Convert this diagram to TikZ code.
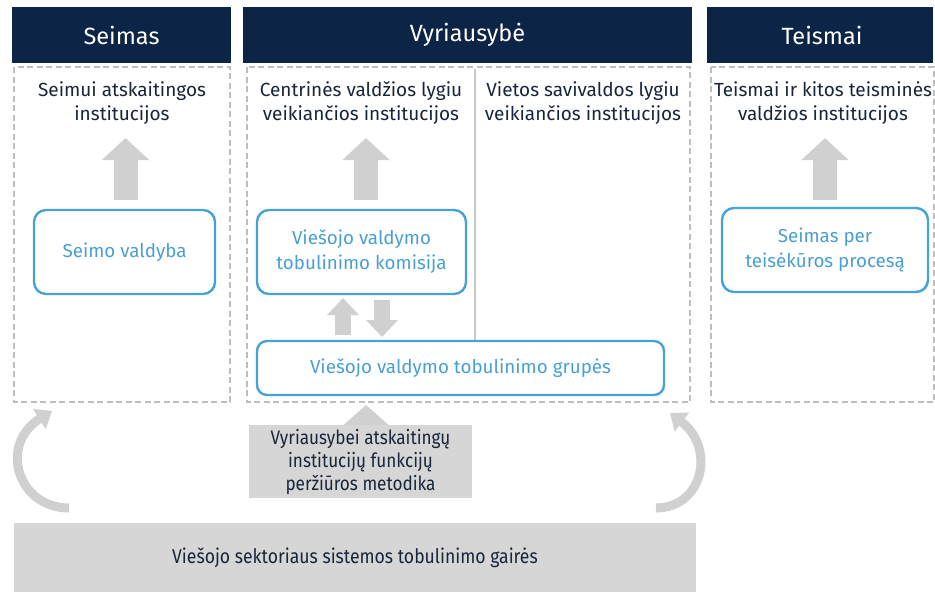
\documentclass[tikz,border=0pt]{standalone}
\usepackage{fontspec}
\setmainfont{Fira Sans}
\newfontfamily\condfont[FakeStretch=0.88]{Fira Sans}
\usetikzlibrary{arrows.meta}
\definecolor{navy}{HTML}{0C2446}
\definecolor{bluel}{HTML}{45A3D8}
\definecolor{bluet}{HTML}{4A9FD2}
\definecolor{arrg}{HTML}{D0D0D0}
\definecolor{boxg}{HTML}{D6D6D6}
\definecolor{dashg}{HTML}{BEBEBE}
\definecolor{txt}{HTML}{18253A}
\tikzset{
  header/.style={text=white, font=\fontsize{23.5}{28}\selectfont},
  dashbox/.style={draw=dashg, line width=1.4pt, dash pattern=on 6pt off 3.5pt},
  bluebox/.style={draw=bluel, line width=2.4pt, rounded corners=12pt, text=bluet, align=center, font=\fontsize{18.8}{25}\selectfont},
  subtitle/.style={text=txt, align=center, font=\fontsize{19}{24}\selectfont},
  blockarrow/.style={draw=arrg, line width=#1},
  grayboxst/.style={fill=boxg, text=txt, align=center},
  curvearrow/.style={draw=arrg, line width=9pt, -{Triangle[width=23pt,length=15pt]}},
}
\begin{document}
\begin{tikzpicture}[x=1pt,y=-1pt]
\useasboundingbox (0,0) rectangle (935,592);
% headers
\fill[navy] (12,7) rectangle (231,63);
\node[header] (hs) at (121.5,35) {Seimas};
\fill[navy] (243,7) rectangle (692,63);
\node[header] (hv) at (467.5,35) {Vyriausybė};
\fill[navy] (707,7) rectangle (933,63);
\node[header] (ht) at (822,35) {Teismai};
% dashed boxes
\draw[dashbox] (14,67) rectangle (230,402);
\draw[dashbox] (247,67) rectangle (690,402);
\draw[dashbox] (711,67) rectangle (934,402);
% vertical divider
\draw[draw=dashg!85, line width=1.3pt] (475,69) -- (475,340);
% subtitles
\node[subtitle] (s1) at (122,103) {Seimui atskaitingos\\institucijos};
\node[subtitle] (s2) at (361,103) {Centrinės valdžios lygiu\\veikiančios institucijos};
\node[subtitle] (s3) at (583,103) {Vietos savivaldos lygiu\\veikiančios institucijos};
\node[subtitle] (s4) at (823,103) {Teismai ir kitos teisminės\\valdžios institucijos};
% blue boxes
\node[bluebox, minimum width=181pt, minimum height=84pt] (sv) at (124.5,252) {Seimo valdyba};
\node[bluebox, minimum width=209pt, minimum height=84pt] (km) at (361.5,252) {Viešojo valdymo\\tobulinimo komisija};
\node[bluebox, minimum width=206pt, minimum height=84pt] (sp) at (825,250) {Seimas per\\teisėkūros procesą};
\node[bluebox, rounded corners=10pt, minimum width=407pt, minimum height=54pt] (gr) at (460.5,368) {Viešojo valdymo tobulinimo grupės};
% block arrows
\coordinate (a1s) at (125.5,200); \coordinate (a1e) at (125.5,138);
\coordinate (a2s) at (366,200); \coordinate (a2e) at (366,138);
\coordinate (a3s) at (825,200); \coordinate (a3e) at (825,138);
\foreach \s/\e in {a1s/a1e,a2s/a2e,a3s/a3e}
  \draw[blockarrow=24pt, -{Triangle[width=46pt,length=22pt]}] (\s) -- (\e);
\coordinate (u1s) at (343,335); \coordinate (u1e) at (343,298);
\coordinate (d1s) at (382,300); \coordinate (d1e) at (382,337);
\draw[blockarrow=16pt, -{Triangle[width=31pt,length=17pt]}] (u1s) -- (u1e);
\draw[blockarrow=16pt, -{Triangle[width=31pt,length=17pt]}] (d1s) -- (d1e);
% methodika
\coordinate (m1s) at (366,432); \coordinate (m1e) at (366,405);
\draw[blockarrow=24pt, -{Triangle[width=44pt,length=20pt]}] (m1s) -- (m1e);
\node[grayboxst, minimum width=223pt, minimum height=67pt, font=\condfont\fontsize{19.5}{23}\selectfont] (md) at (360.5,461.5) {Vyriausybei atskaitingų\\institucijų funkcijų\\peržiūros metodika};
% bottom box
\node[grayboxst, minimum width=682pt, minimum height=69pt, font=\condfont\fontsize{20}{24}\selectfont] (gb) at (355,557.5) {Viešojo sektoriaus sistemos tobulinimo gairės};
% curved arrows
\coordinate (c1s) at (69,508); \coordinate (c1e) at (52,411);
\coordinate (c2s) at (656,508); \coordinate (c2e) at (670,413);
\draw[curvearrow] (c1s) .. controls (18,508) and (-2,445) .. (c1e);
\draw[curvearrow] (c2s) .. controls (703,508) and (716,448) .. (c2e);
\end{tikzpicture}
\end{document}
